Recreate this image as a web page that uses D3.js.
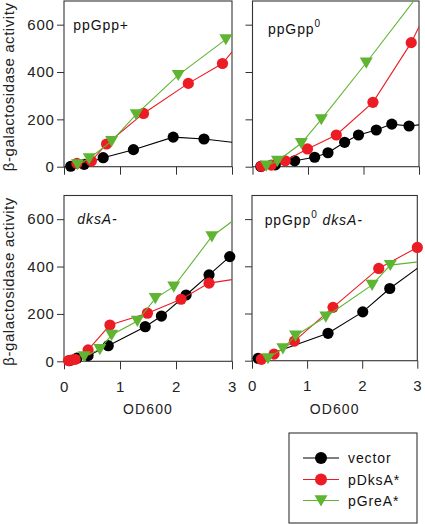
<!DOCTYPE html>
<html><head><meta charset="utf-8">
<script src="https://cdn.jsdelivr.net/npm/d3@7"></script>
<style>
html,body{margin:0;padding:0;background:#fff;}
svg{display:block;font-family:"Liberation Sans",Arial,Helvetica,sans-serif;}
</style></head><body>
<svg id="c" width="425" height="524"></svg>
<script>
// ---------------- data ----------------
const seriesNames = ["vector", "pDksA*", "pGreA*"];
const xTicks = [0, 1, 2, 3];
const yTicks = [0, 200, 400, 600];
const xDomain = [0, 3];
const yDomain = [0, 700];
const panelTitles = ["ppGpp+", "ppGpp0", "dksA-", "ppGpp0 dksA-"];
const xAxisTitle = "OD600";
const yAxisTitle = "β-galactosidase activity";

// panel 1: ppGpp+
const p1VectorX = [0.12, 0.36, 0.70, 1.24, 1.95, 2.50, 3.30];
const p1VectorY = [2, 10, 38, 72, 125, 117, 95];
const p1DksAX   = [0.23, 0.49, 0.76, 1.42, 2.22, 2.83, 3.20];
const p1DksAY   = [14, 24, 96, 225, 352, 436, 543];
const p1GreAX   = [0.24, 0.45, 0.85, 1.29, 2.04, 2.89, 3.20];
const p1GreAY   = [10, 35, 108, 221, 387, 538, 590];

// panel 2: ppGpp0
const p2VectorX = [0.15, 0.41, 0.76, 1.12, 1.36, 1.66, 1.91, 2.23, 2.51, 2.82, 3.20];
const p2VectorY = [1, 8, 25, 40, 59, 103, 134, 155, 180, 172, 182];
const p2DksAX   = [0.16, 0.34, 0.59, 0.99, 1.51, 2.17, 2.86, 3.20];
const p2DksAY   = [2, 7, 25, 75, 134, 272, 524, 687];
const p2GreAX   = [0.25, 0.45, 0.88, 1.24, 2.05, 3.20];
const p2GreAY   = [4, 24, 99, 200, 439, 790];

// panel 3: dksA-
const p3VectorX = [0.10, 0.23, 0.43, 0.79, 1.45, 1.74, 2.18, 2.59, 2.96];
const p3VectorY = [3, 13, 24, 66, 146, 191, 280, 365, 442];
const p3DksAX   = [0.08, 0.13, 0.20, 0.43, 0.82, 1.49, 2.09, 2.59, 3.20];
const p3DksAY   = [3, 5, 8, 48, 153, 203, 262, 330, 352];
const p3GreAX   = [0.36, 0.64, 0.85, 1.31, 1.63, 1.96, 2.64, 3.20];
const p3GreAY   = [20, 51, 111, 170, 266, 315, 527, 625];

// panel 4: ppGpp0 dksA-
const p4VectorX = [0.11, 1.38, 2.01, 2.50, 3.20];
const p4VectorY = [10, 116, 207, 306, 425];
const p4DksAX   = [0.17, 0.40, 0.77, 1.47, 2.30, 3.00];
const p4DksAY   = [6, 28, 83, 226, 391, 480];
const p4GreAX   = [0.29, 0.56, 0.79, 1.34, 2.18, 2.51, 3.20];
const p4GreAY   = [10, 52, 106, 186, 321, 405, 424];

// ---------------- styles / layout ----------------
const colors = ["#000000", "#ec1c24", "#5fb531"];
const markerKinds = ["circle", "circle", "triangle"];
const frameColor = "#333";

const layout = [
  {x0: 64,  x1: 232,   top: 1,     bottom: 166.7, yLab: true,  xLab: false, tx: 73.3,  ty: 30},
  {x0: 252.5, x1: 419, top: 1,     bottom: 166.7, yLab: false, xLab: false, tx: 268,   ty: 33.5},
  {x0: 64,  x1: 232,   top: 195.5, bottom: 361.3, yLab: true,  xLab: true,  tx: 77.3,  ty: 223.5},
  {x0: 252, x1: 417.3, top: 195.5, bottom: 360.7, yLab: false, xLab: true,  tx: 264.7, ty: 225}
];

const panelData = [
  [[p1VectorX, p1VectorY], [p1DksAX, p1DksAY], [p1GreAX, p1GreAY]],
  [[p2VectorX, p2VectorY], [p2DksAX, p2DksAY], [p2GreAX, p2GreAY]],
  [[p3VectorX, p3VectorY], [p3DksAX, p3DksAY], [p3GreAX, p3GreAY]],
  [[p4VectorX, p4VectorY], [p4DksAX, p4DksAY], [p4GreAX, p4GreAY]]
];

const triDown = {
  draw(c, size) {
    c.moveTo(-6.5, -5.2); c.lineTo(6.5, -5.2); c.lineTo(0, 6); c.closePath();
  }
};
const triPath = d3.symbol().type(triDown)();

const svg = d3.select("#c");
const defs = svg.append("defs");

function drawMarker(g, kind, color, cx, cy, r) {
  if (kind === "circle") {
    g.append("circle").attr("cx", cx).attr("cy", cy).attr("r", r).attr("fill", color);
  } else {
    g.append("path").attr("d", triPath).attr("transform", `translate(${cx},${cy})`).attr("fill", color);
  }
}

layout.forEach((L, i) => {
  const x = d3.scaleLinear().domain(xDomain).range([L.x0, L.x1]);
  const y = d3.scaleLinear().domain(yDomain).range([L.bottom, L.top]);

  defs.append("clipPath").attr("id", "clip" + i)
    .append("rect").attr("x", L.x0).attr("y", L.top)
    .attr("width", L.x1 - L.x0).attr("height", L.bottom - L.top);

  const g = svg.append("g");

  // y axis
  const ya = g.append("g").attr("transform", `translate(${L.x0},0)`)
    .call(d3.axisLeft(y).tickValues(yTicks).tickSize(7).tickPadding(2.5)
      .tickFormat(L.yLab ? d3.format("d") : () => ""));
  ya.select(".domain").remove();
  ya.selectAll("line").attr("stroke", frameColor);
  ya.selectAll("text").attr("font-size", 15).attr("font-family", null)
    .attr("fill", "#222").style("letter-spacing", "0.7px");
  ya.attr("font-family", null).attr("font-size", null);

  // x axis
  const xa = g.append("g").attr("transform", `translate(0,${L.bottom})`)
    .call(d3.axisBottom(x).tickValues(xTicks).tickSize(8).tickPadding(12)
      .tickFormat(L.xLab ? d3.format("d") : () => ""));
  xa.select(".domain").remove();
  xa.selectAll("line").attr("stroke", frameColor);
  xa.selectAll("text").attr("font-size", 15).attr("fill", "#222").style("letter-spacing", "0.7px");
  xa.attr("font-family", null).attr("font-size", null);

  // frame
  g.append("rect").attr("x", L.x0).attr("y", L.top)
    .attr("width", L.x1 - L.x0).attr("height", L.bottom - L.top)
    .attr("fill", "none").attr("stroke", frameColor).attr("stroke-width", 1.1);

  // series
  const line = d3.line().x(d => x(d[0])).y(d => y(d[1]));
  panelData[i].forEach((s, k) => {
    const pts = s[0].map((v, j) => [v, s[1][j]]);
    g.append("path").attr("d", line(pts)).attr("fill", "none")
      .attr("stroke", colors[k]).attr("stroke-width", 1.1)
      .attr("clip-path", `url(#clip${i})`);
    const mg = g.append("g");
    pts.filter(d => d[0] <= xDomain[1] + 1e-9 && d[1] <= yDomain[1]).forEach(d => {
      drawMarker(mg, markerKinds[k], colors[k], x(d[0]), y(d[1]), 5.6);
    });
  });

  // panel title
  const t = g.append("text").attr("x", L.tx).attr("y", L.ty)
    .attr("font-size", 14).attr("fill", "#111").style("letter-spacing", "0.9px");
  const title = panelTitles[i];
  if (title === "ppGpp+") {
    t.text(title);
  } else if (title === "dksA-") {
    t.append("tspan").attr("font-style", "italic").text("dksA-");
  } else {
    t.append("tspan").text("ppGpp");
    t.append("tspan").attr("font-size", 10).attr("dy", -7).text("0");
    if (title.indexOf("dksA") >= 0) {
      t.append("tspan").attr("dy", 7).attr("font-style", "italic").text(" dksA-");
    }
  }

  // y axis title
  if (L.yLab) {
    const cy = (L.top + L.bottom) / 2 + 3;
    svg.append("text").attr("transform", `translate(13.5,${cy}) rotate(-90)`)
      .attr("text-anchor", "middle").attr("font-size", 15).attr("fill", "#222")
      .style("letter-spacing", "0.55px").text(yAxisTitle);
  }
  // x axis title
  if (L.xLab) {
    svg.append("text").attr("x", (L.x0 + L.x1) / 2).attr("y", 414)
      .attr("text-anchor", "middle").attr("font-size", 14).attr("fill", "#222")
      .style("letter-spacing", "1.1px").text(xAxisTitle);
  }
});

// legend
const lg = svg.append("g");
lg.append("rect").attr("x", 289).attr("y", 433).attr("width", 128).attr("height", 90)
  .attr("fill", "none").attr("stroke", frameColor).attr("stroke-width", 1.1);
const legRows = [458, 479.5, 500.5];
seriesNames.forEach((name, k) => {
  const yy = legRows[k];
  lg.append("line").attr("x1", 303).attr("x2", 339).attr("y1", yy).attr("y2", yy)
    .attr("stroke", colors[k]).attr("stroke-width", 1.1);
  drawMarker(lg, markerKinds[k], colors[k], 321, yy, 6);
  lg.append("text").attr("x", 348).attr("y", yy + 5).attr("font-size", 14)
    .attr("fill", "#111").style("letter-spacing", "0.9px").text(name);
});
</script>
</body></html>
